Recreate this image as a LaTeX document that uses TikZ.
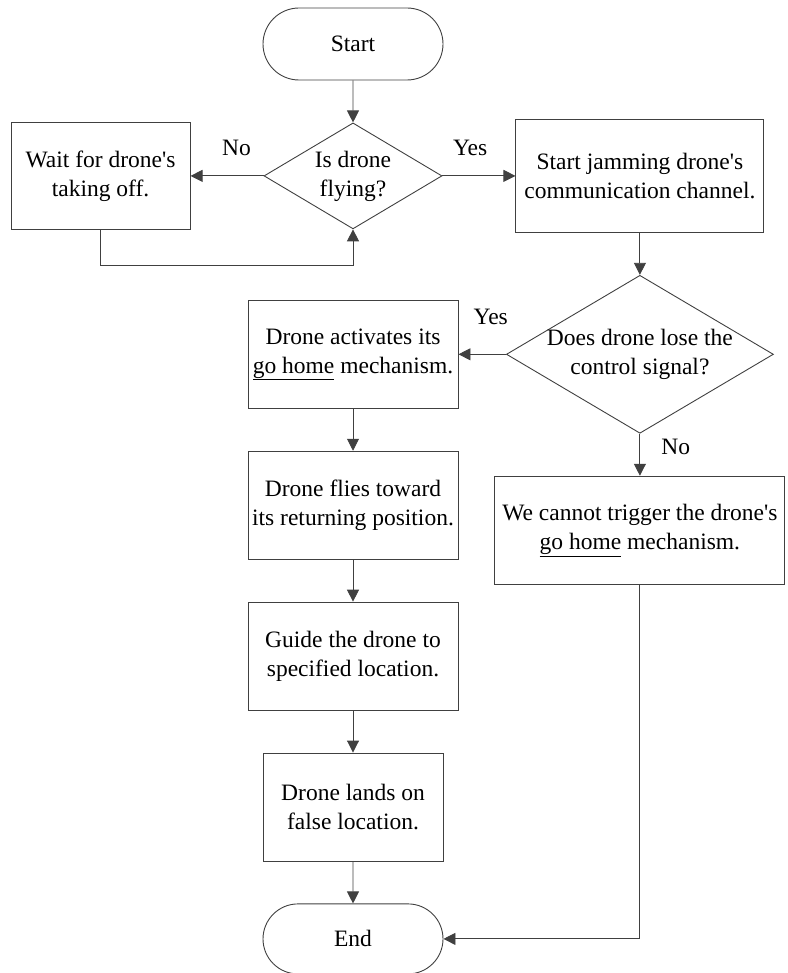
\documentclass[tikz,border=0pt]{standalone}
\usepackage{fontspec}
\setmainfont{Liberation Serif}
\usetikzlibrary{arrows.meta,shapes.geometric,shapes.misc,positioning}
\newcommand{\sq}{\textquotesingle}
\tikzset{
fcnode/.style = {align=center, inner sep=0pt, text centered,
font=\fontsize{23.5}{29}\selectfont},
fc_term/.style = {fcnode, rounded rectangle, draw=black!75, minimum width=180pt, minimum height=72pt},% start / end
fc_proc/.style = {fcnode, rectangle, draw=black!75, minimum width=210pt, minimum height=108pt},% action box
fc_dec/.style = {fcnode, diamond, draw=black!75, aspect=1.68, inner sep=-3pt},% question
fc_lbl/.style = {fcnode},% yes / no
fc_arr/.style = {draw=black!75, line width=0.9pt, -{Triangle[length=12pt,width=12pt]}}
}
\begin{document}
\begin{tikzpicture}[line width=0.9pt]
  \useasboundingbox (0pt,0pt) rectangle (787pt,-973pt);
	\node [fc_term] (start) at (353pt,-44pt) {Start};
	\node [fc_dec, below=42pt of start, minimum width=178pt, minimum height=106pt] (qfly) {Is drone\\flying?};
	\node [fc_proc, left=73pt of qfly, minimum width=179pt, minimum height=107pt] (wait) {Wait for drone\sq s\\taking off.};
	\node [fc_proc, right=73pt of qfly, minimum width=248pt, minimum height=113pt] (jam) {Start jamming drone\sq s\\communication channel.};
	\node [fc_dec, below=42pt of jam, minimum width=267pt, minimum height=158pt] (qlose) {Does drone lose the\\control signal?};
	\node [fc_proc] (act) at (start |- qlose) {Drone activates its\\\underline{go home} mechanism.};
	\node [fc_proc, below=42pt of act] (fly) {Drone flies toward\\its returning position.};
	\node [fc_proc, below=42pt of fly] (guide) {Guide the drone to\\specified location.};
	\node [fc_proc, below=42pt of guide, minimum width=180pt] (land) {Drone lands on\\false location.};
	\node [fc_term, below=42pt of land, minimum height=70pt] (end) {End};
	\node [fc_proc, below=42pt of qlose, minimum width=290pt] (nogo) {We cannot trigger the drone\sq s\\\underline{go home} mechanism.};

	\draw [fc_arr] (start) -- (qfly);
	\draw [fc_arr] (qfly.west) -- node [fc_lbl, pos=0.37, above=20pt] {No} (wait.east);
	\draw [fc_arr] (wait.south) -- ++(0,-36pt) -| (qfly.south);
	\draw [fc_arr] (qfly.east) -- node [fc_lbl, pos=0.38, above=20pt] {Yes} (jam.west);
	\draw [fc_arr] (jam) -- (qlose);
	\draw [fc_arr] (qlose.west) -- node [fc_lbl, pos=0.32, above=29pt] {Yes} (act.east);
	\draw [fc_arr] (qlose.south) -- node [fc_lbl, pos=0.32, right=21pt] {No} (nogo.north);
	\draw [fc_arr] (act) -- (fly);
	\draw [fc_arr] (fly) -- (guide);
	\draw [fc_arr] (guide) -- (land);
	\draw [fc_arr] (land) -- (end);
	\draw [fc_arr] (nogo.south) |- (end.east);
\end{tikzpicture}
\end{document}
